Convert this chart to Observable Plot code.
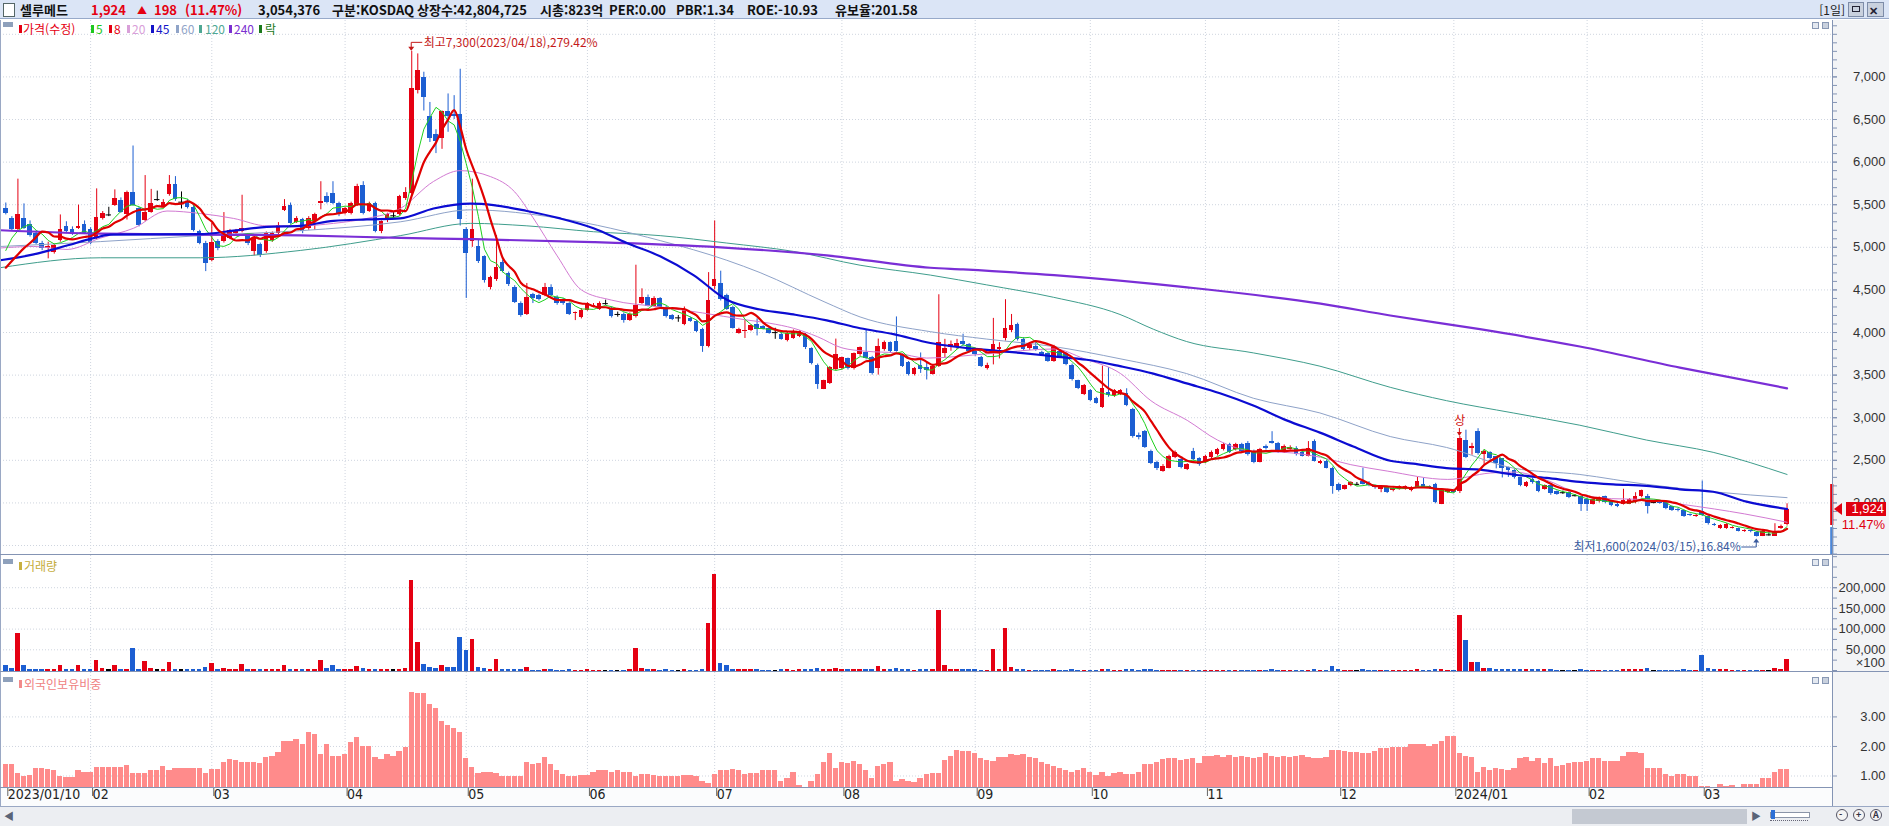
<!DOCTYPE html>
<html lang="ko"><head><meta charset="utf-8">
<script src="https://cdn.jsdelivr.net/npm/d3@7"></script>
<script src="https://cdn.jsdelivr.net/npm/@observablehq/plot@0.6"></script>
<style>
html,body{margin:0;padding:0;}
body{width:1889px;height:826px;overflow:hidden;background:#fff;font-family:"Noto Sans CJK KR","Liberation Sans",sans-serif;}
#root{position:relative;width:1889px;height:826px;background:#fff;overflow:hidden;}
.a{position:absolute;white-space:nowrap;}
.pb{position:absolute;left:0;}
.pb svg{display:block;overflow:visible;}
</style></head><body><div id="root"></div>
<script>
// ---------------- DATA ----------------
const tickIdx=[0,14,34,56,76,96,117,138,160,179,198,220,239,261,280];
const tickLabels=["2023/01/10","02","03","04","05","06","07","08","09","10","11","12","2024/01","02","03"];
const priceTicks=[2000,2500,3000,3500,4000,4500,5000,5500,6000,6500,7000];
const priceGrid=[1500,2000,2500,3000,3500,4000,4500,5000,5500,6000,6500,7000,7500];
const volTicks=[50000,100000,150000,200000];
const frTicks=[1,2,3];

const open=[
5460,5340,5206,5340,5264,5166,5050,4990,4934,5079,
5241,5212,5224,5264,5206,5108,5340,5380,5495,5553,
5380,5645,5455,5311,5414,5560,5472,5616,5738,5530,
5541,5472,5183,5050,4848,5067,5067,5108,5166,5183,
5137,4952,5033,4952,5079,5166,5437,5495,5293,5322,
5224,5298,5512,5599,5628,5512,5397,5397,5495,5726,
5426,5512,5183,5310,5370,5380,5570,5628,6842,6998,
6536,6322,6281,6593,6560,6553,5206,5067,5004,4888,
4530,4628,4819,4692,4530,4339,4212,4443,4432,4432,
4530,4414,4385,4339,4218,4172,4258,4300,4270,4339,
4281,4212,4212,4143,4183,4339,4414,4310,4397,4299,
4195,4172,4097,4166,4126,4039,3836,4542,4570,4432,
4299,3993,4010,4022,4097,4068,4050,3999,3981,3906,
3935,3952,3981,3807,3617,3333,3403,3565,3576,3692,
3576,3738,3761,3703,3576,3796,3877,3894,3738,3646,
3507,3617,3588,3513,3605,3750,3819,3830,3894,3854,
3779,3703,3576,3761,3800,3934,4027,4097,3923,3807,
3836,3761,3750,3663,3779,3750,3617,3432,3276,3316,
3230,3125,3299,3258,3276,3287,3097,2796,2837,2605,
2478,2374,2409,2536,2507,2391,2605,2519,2478,2536,
2565,2622,2680,2622,2680,2698,2605,2478,2663,2721,
2698,2594,2628,2640,2594,2548,2721,2466,2490,2409,
2218,2160,2201,2218,2247,2230,2200,2160,2177,2143,
2160,2160,2143,2177,2218,2189,2218,1987,2120,2135,
2130,2738,2640,2836,2565,2594,2540,2524,2410,2380,
2293,2195,2276,2247,2160,2200,2130,2120,2120,2085,
2073,2045,1987,2016,2073,2016,1987,1987,1987,2004,
2073,2073,2004,2010,2004,1958,1925,1912,1860,1840,
1900,1842,1745,1698,1698,1700,1698,1665,1672,1658,
1611,1625,1611,1698,1750];
const high=[
5520,5360,5800,5510,5310,5190,5070,5060,5040,5380,
5300,5240,5495,5310,5230,5686,5420,5470,5674,5580,
5660,6189,5470,5842,5680,5660,5560,5842,5830,5650,
5560,5490,5200,5070,5280,5090,5408,5210,5210,5611,
5150,5120,5050,5180,5180,5290,5560,5520,5360,5340,
5360,5400,5770,5640,5770,5530,5470,5530,5740,5770,
5530,5530,5310,5400,5420,5610,5700,7300,7270,7055,
6700,6380,6600,6800,6780,7090,5230,5800,5080,4900,
4660,5137,4850,4710,4550,4360,4576,4460,4450,4576,
4560,4430,4400,4350,4240,4280,4350,4340,4360,4380,
4300,4240,4230,4230,4790,4513,4440,4420,4410,4310,
4210,4200,4300,4180,4140,4050,4703,5310,4720,4450,
4310,4050,4140,4090,4160,4080,4070,4050,4000,4010,
4030,4020,3990,3820,3630,3440,3600,3923,3710,3700,
3760,3830,4027,3720,3923,3900,3890,4183,3750,3660,
3590,3760,3650,3610,4443,3920,3900,3920,3980,3870,
3800,3720,3640,4166,3880,4385,4212,4110,3940,3880,
3900,3780,3760,3850,3800,3760,3630,3440,3390,3330,
3240,3605,3588,3330,3330,3340,3110,2820,2850,2620,
2490,2450,2560,2610,2520,2460,2640,2530,2560,2610,
2640,2700,2700,2700,2700,2720,2620,2640,2680,2836,
2710,2680,2670,2660,2610,2720,2740,2500,2500,2420,
2230,2210,2250,2240,2409,2250,2210,2200,2190,2180,
2200,2200,2190,2300,2290,2200,2230,2150,2160,2150,
2780,2854,2700,2871,2620,2600,2540,2480,2420,2390,
2300,2250,2290,2260,2210,2210,2140,2140,2130,2100,
2080,2060,2050,2070,2080,2030,1995,2160,2050,2120,
2150,2100,2030,2020,2010,1965,1935,1915,1870,1865,
2258,1850,1760,1745,1756,1720,1705,1685,1680,1665,
1675,1650,1756,1740,1990];
const low=[
5380,5190,5190,5210,5120,5030,4960,4865,4920,5060,
5160,5140,5210,5150,5030,5090,5320,5360,5480,5400,
5320,5480,5240,5300,5400,5540,5460,5600,5540,5450,
5450,5180,5030,4715,4830,4960,5050,5090,5150,5170,
5020,4900,4880,4930,5060,5150,5420,5270,5280,5160,
5200,5200,5440,5510,5500,5360,5380,5380,5480,5380,
5410,5170,5160,5290,5340,5370,5550,5600,6800,6600,
6230,6100,6150,6350,6500,5250,4400,5000,4810,4580,
4500,4600,4700,4540,4340,4180,4200,4340,4370,4420,
4420,4320,4320,4200,4140,4160,4250,4290,4260,4320,
4170,4180,4110,4130,4170,4330,4300,4300,4290,4170,
4140,4120,4080,4120,4000,3767,3820,4500,4370,4260,
4040,3980,3930,4010,3960,4030,3980,3920,3910,3890,
3920,3940,3800,3620,3333,3330,3390,3550,3560,3560,
3560,3720,3680,3500,3500,3780,3760,3770,3590,3490,
3490,3520,3443,3500,3590,3700,3780,3800,3840,3760,
3720,3590,3560,3620,3690,3900,4000,3900,3780,3790,
3780,3720,3650,3650,3700,3610,3430,3330,3260,3190,
3160,3110,3240,3240,3260,3130,2760,2740,2640,2450,
2380,2360,2400,2520,2400,2380,2490,2430,2460,2520,
2550,2610,2580,2610,2590,2550,2460,2470,2620,2690,
2580,2580,2620,2550,2540,2540,2480,2450,2400,2102,
2130,2150,2190,2200,2210,2190,2160,2120,2110,2130,
2150,2150,2130,2170,2170,2160,1990,1980,2110,2110,
2110,2520,2560,2560,2440,2500,2400,2293,2300,2280,
2190,2180,2220,2120,2150,2090,2090,2100,2050,2070,
1900,1900,1975,2000,1990,1955,1945,1975,1980,1990,
2060,1870,1990,1985,1920,1900,1895,1830,1840,1830,
1840,1740,1725,1690,1690,1695,1660,1655,1650,1600,
1605,1610,1610,1690,1730];
const close=[
5400,5210,5380,5225,5137,5050,4981,5010,5021,5206,
5183,5154,5250,5166,5050,5350,5397,5380,5570,5414,
5645,5495,5253,5414,5512,5560,5530,5738,5559,5530,
5472,5195,5050,4807,5062,4981,5154,5195,5195,5224,
5039,5108,4906,5160,5160,5253,5483,5281,5340,5183,
5340,5380,5541,5530,5512,5380,5455,5512,5715,5397,
5512,5183,5299,5385,5370,5599,5645,6859,7073,6755,
6281,6247,6593,6536,6530,5322,4923,5212,4830,4605,
4645,4761,4721,4559,4357,4200,4414,4397,4385,4530,
4432,4339,4339,4212,4230,4258,4339,4316,4339,4339,
4183,4212,4143,4212,4316,4414,4310,4397,4299,4183,
4154,4172,4270,4131,4010,3836,4374,4617,4385,4270,
4050,4039,4027,4085,4039,4039,3993,3999,3923,3993,
4010,4010,3819,3634,3385,3432,3588,3738,3703,3576,
3749,3819,3692,3518,3836,3877,3779,3779,3605,3507,
3576,3565,3553,3599,3883,3808,3865,3870,3854,3779,
3738,3599,3617,3854,3830,4050,4085,3923,3796,3865,
3796,3732,3663,3836,3721,3622,3443,3345,3374,3201,
3172,3345,3258,3316,3316,3143,2779,2767,2651,2466,
2409,2432,2548,2594,2420,2449,2507,2449,2548,2594,
2622,2680,2594,2680,2605,2565,2478,2622,2640,2700,
2594,2663,2651,2565,2548,2640,2490,2490,2409,2189,
2143,2201,2235,2218,2218,2200,2177,2177,2120,2172,
2189,2190,2177,2247,2177,2170,2004,2143,2143,2126,
2760,2536,2663,2582,2605,2518,2460,2403,2380,2300,
2201,2235,2235,2131,2201,2110,2102,2120,2062,2085,
1987,1987,2045,2062,2004,1969,1958,2027,2045,2073,
2143,1958,2004,1995,1929,1912,1910,1842,1850,1855,
1854,1756,1735,1738,1745,1710,1669,1675,1660,1610,
1669,1625,1669,1726,1924];
// volume in the axis unit (x100 shares)
const volume=[
13000,4000,90000,11000,2500,2000,1500,1500,2000,11000,
2000,1500,11000,2000,2500,25000,4000,2000,11000,2000,
3000,52000,2000,21000,4000,2500,3000,19000,3000,1500,
1500,2000,2500,7000,17000,3000,4000,1500,1500,15000,
2500,2000,1500,2000,2000,3000,12000,2500,2000,2000,
2500,2000,25000,4000,12000,2000,2000,2500,10000,6000,
2500,3000,2000,2000,1500,3500,4000,218000,67000,15000,
7000,4000,13000,7000,7000,79000,49000,75000,7000,4000,
2500,27000,3000,2000,2000,2000,7000,1000,1000,2500,
2000,1000,1000,1500,1000,1000,1500,1000,1000,800,
1000,800,1000,1500,52000,4000,2000,1500,1000,2000,
1000,800,2500,1000,1000,1500,114000,233000,17000,11000,
3000,2500,2500,2000,1500,1000,1000,800,1500,1500,
1000,1500,2000,3000,6000,3000,2000,4000,2500,1500,
2500,3000,3500,3000,10000,2500,1500,6000,2000,1500,
1000,1500,1500,2000,144000,11000,3000,2500,2500,2000,
1500,1000,1000,51000,3000,102000,7000,2500,2000,1000,
1000,800,800,1500,800,1000,1500,1000,1000,800,
800,3000,1500,1000,1000,2500,3000,1000,1500,1500,
1000,800,1000,800,1000,800,1000,800,800,800,
800,1000,800,800,800,1000,1000,800,800,1500,
800,800,800,800,800,1000,1500,800,1000,10000,
1500,1000,800,600,1500,800,800,800,800,800,
800,800,800,1500,1000,800,3000,2000,800,1000,
132000,73000,19000,19000,5000,4000,2000,3500,3000,2500,
2000,2500,1500,1500,2000,1500,1000,800,800,800,
1500,1000,800,800,800,800,800,3000,3000,2500,
2500,5000,800,800,1000,800,1000,2000,1000,800,
37000,4000,1500,2500,1500,1000,1000,800,800,1000,
800,800,4000,1500,27000];
// foreign ownership ratio (%)
const foreign=[
1.38,1.38,1.08,0.97,1.03,1.25,1.25,1.22,1.2,1.0,
0.95,0.95,1.17,1.12,1.12,1.3,1.3,1.28,1.28,1.3,
1.37,1.08,1.08,1.08,1.2,1.2,1.33,1.17,1.25,1.25,
1.25,1.25,1.25,1.08,1.22,1.22,1.45,1.55,1.53,1.47,
1.47,1.47,1.42,1.63,1.67,1.8,2.17,2.17,2.22,2.08,
2.47,2.42,1.72,2.08,1.67,1.67,1.72,2.13,2.3,2.0,
2.0,1.63,1.55,1.72,1.67,1.83,1.97,3.83,3.78,3.8,
3.42,3.3,2.83,2.72,2.6,2.47,1.58,1.28,1.08,1.12,
1.12,1.08,1.0,1.0,1.0,1.0,1.45,1.38,1.42,1.63,
1.38,1.17,1.05,0.97,0.97,1.03,1.03,1.13,1.2,1.2,
1.13,1.2,1.12,1.12,1.0,1.05,1.05,1.03,1.0,1.0,
0.97,1.0,1.03,1.03,0.97,0.83,0.75,1.05,1.2,1.2,
1.22,1.17,1.05,1.08,1.08,1.17,1.17,1.17,0.83,0.92,
1.12,0.67,0.58,0.83,1.05,1.45,1.75,1.25,1.45,1.42,
1.5,1.38,1.2,0.92,1.33,1.38,1.47,0.83,0.87,0.83,
0.78,0.92,1.05,1.08,1.08,1.53,1.67,1.87,1.83,1.83,
1.75,1.58,1.53,1.5,1.63,1.63,1.72,1.7,1.72,1.63,
1.58,1.47,1.38,1.33,1.25,1.2,1.13,1.17,1.25,1.12,
1.03,1.12,1.0,1.08,1.12,1.05,1.05,1.13,1.38,1.38,
1.47,1.55,1.58,1.58,1.53,1.55,1.58,1.42,1.67,1.67,
1.7,1.63,1.7,1.63,1.67,1.63,1.58,1.63,1.75,1.67,
1.63,1.67,1.63,1.67,1.7,1.63,1.58,1.58,1.63,1.87,
1.87,1.83,1.8,1.78,1.75,1.75,1.83,1.92,1.92,1.95,
1.97,1.97,2.08,2.08,2.05,2.0,2.08,2.17,2.33,2.33,
1.75,1.67,1.62,1.13,1.28,1.17,1.25,1.22,1.17,1.25,
1.58,1.62,1.5,1.58,1.42,1.58,1.33,1.37,1.42,1.45,
1.45,1.5,1.58,1.58,1.5,1.5,1.5,1.67,1.78,1.78,
1.75,1.25,1.25,1.25,1.05,1.0,1.05,1.05,1.0,1.0,
0.63,0.63,0.62,0.7,0.63,0.67,0.62,0.7,0.72,0.7,
0.92,0.92,1.13,1.22,1.22];
// moving-average lines: [day index, price]
const ma5Lead=[4963,5108,5195,5240];
const ma8Lead=[4761,4840,4917,4990,5050,5120,5183];
const ma20=[[-0.9,4992],[4.6,5010],[10.1,4975],[15.6,5108],[21.1,5224],[26.6,5426],[32.1,5397],[37.6,5339],[43.1,5252],[48.6,5252],[54.1,5281],[59.6,5339],[65.1,5455],[70.6,5773],[75,5900],[80,5830],[84,5650],[87,5350],[91,4900],[95,4500],[100,4380],[108,4300],[115,4230],[122,4150],[126,4110],[130,4050],[134,3950],[138,3820],[142,3780],[147,3760],[152,3700],[162,3750],[173,3807],[178,3692],[184,3518],[189,3200],[195,2969],[200,2738],[206,2605],[211,2594],[217,2536],[222,2449],[228,2374],[238,2276],[245,2351],[249,2362],[254,2276],[260,2100],[265,2050],[271,2040],[276,1990],[282,1929],[287,1871],[294,1773]];
const ma45=[[-0.9,4848],[4.6,4917],[10.1,5021],[14.5,5108],[17.3,5148],[32.1,5154],[37.6,5195],[43.1,5241],[48.6,5252],[54.1,5310],[59.6,5327],[65.1,5339],[70.6,5455],[76.7,5512],[80.5,5495],[86,5426],[91.5,5339],[97,5224],[102.5,5050],[108,4894],[113.5,4674],[119,4385],[124.5,4270],[130,4212],[135.5,4143],[141,4050],[146.5,3981],[152.6,3877],[156.4,3836],[161.9,3796],[167.4,3761],[172.9,3721],[178.4,3680],[183.9,3605],[189.4,3518],[194.9,3403],[200.4,3287],[205.9,3143],[211.4,2969],[216.9,2825],[222.4,2663],[228.5,2495],[232.3,2461],[237.8,2409],[243.3,2391],[248.8,2334],[254.3,2293],[259.8,2247],[265.3,2218],[270.8,2201],[276.3,2160],[281.8,2131],[287.3,2016],[294,1929]];
const ma60=[[-0.9,5010],[15.6,5067],[32.1,5137],[48.6,5195],[65.1,5299],[76.7,5440],[91.5,5339],[108,5079],[119,4848],[124.5,4703],[135.2,4357],[141,4183],[152.6,4010],[161.9,3923],[172.9,3836],[183.9,3692],[194.9,3518],[205.9,3229],[216.9,3056],[228.5,2779],[237.8,2651],[248.8,2409],[259.8,2334],[270.8,2218],[281.8,2131],[294,2062]];
const ma120=[[-0.9,4761],[15.6,4877],[32.1,4877],[48.6,4963],[65.1,5137],[76.7,5281],[86,5252],[97,5183],[108,5137],[119,5050],[130,4952],[141,4790],[152.6,4674],[161.9,4559],[172.9,4414],[183.9,4212],[189.4,4039],[194.9,3894],[205.9,3761],[216.9,3605],[228.5,3357],[237.8,3200],[248.8,3056],[259.8,2912],[270.8,2738],[281.8,2594],[294,2334]];
const ma240=[[-0.9,5200],[15.6,5160],[32.1,5150],[48.6,5140],[65.1,5110],[76.7,5096],[97,5062],[118,5000],[135.5,4906],[152.6,4760],[158,4740],[173,4674],[195,4530],[217,4339],[228.5,4200],[243.3,4039],[259.8,3836],[276.3,3588],[294,3345]];
const axisBands=[{from:2216,to:1735,color:"#e0000e"},{from:1711,to:1394,color:"#4a86d8"}];

// ---------------- SETUP ----------------
const RED="#e50012", BLUE="#1c5ed2", GRID="#cfd5df", AX="#8494b4";
const W=1889, MR=57, X_DOMAIN=[-0.875,301.5];
const MAIN_TOP=20, MAIN_H=535, VOL_TOP=555, VOL_H=117, FR_TOP=672, FR_H=116;
const P_DOM=[1383,7662], V_DOM=[-4830,277800], F_DOM=[0.577,4.503];
const N=close.length;
const C=d3.range(N).map(i=>({i,o:open[i],h:high[i],l:low[i],c:close[i],v:volume[i],f:foreign[i]}));
const col=d=>d.c>d.o?RED:d.c<d.o?BLUE:"#000";
const bodies=C.filter(d=>d.c!==d.o), dojis=C.filter(d=>d.c===d.o);
const ma5=close.map((c,i)=>i<4?ma5Lead[i]:d3.mean(close.slice(i-4,i+1)));
const ma8=close.map((c,i)=>i<7?ma8Lead[i]:d3.mean(close.slice(i-7,i+1)));
const labelMap=new Map(tickIdx.map((t,k)=>[t,tickLabels[k]]));
const baseStyle={background:"transparent",overflow:"visible",fontFamily:"'Liberation Sans',sans-serif",fontSize:"13px",color:"#333"};
const pairLine=(arr,stroke,w)=>Plot.line(arr,{x:d=>d[0],y:d=>d[1],stroke,strokeWidth:w,curve:"monotone-x"});

const mainPlot=Plot.plot({
  width:W,height:MAIN_H,marginLeft:0,marginRight:MR,marginTop:0,marginBottom:0,
  x:{domain:X_DOMAIN,axis:null,label:null},y:{domain:P_DOM,axis:null,label:null},color:{type:"identity"},style:baseStyle,
  marks:[
    Plot.ruleY(priceGrid,{stroke:GRID,strokeDasharray:"1,2"}),
    Plot.ruleX(tickIdx.slice(1),{stroke:GRID,strokeDasharray:"1,2"}),
    Plot.ruleX(C,{x:"i",y1:"l",y2:"h",stroke:col}),
    Plot.rect(bodies,{x1:d=>d.i-0.38,x2:d=>d.i+0.38,y1:"o",y2:"c",fill:col,shapeRendering:"crispEdges"}),
    Plot.ruleY(dojis,{x1:d=>d.i-0.45,x2:d=>d.i+0.45,y:"c",stroke:"#000"}),
    pairLine(ma120,"#3f9d8c",1),
    pairLine(ma60,"#8ea2c8",1),
    pairLine(ma20,"#d27ad2",1),
    Plot.line(ma5,{x:(d,i)=>i,y:d=>d,stroke:"#1ed01e",strokeWidth:1}),
    pairLine(ma240,"#7a2ed6",2.2),
    pairLine(ma45,"#0c0cd2",2.2),
    Plot.line(ma8,{x:(d,i)=>i,y:d=>d,stroke:"#e00000",strokeWidth:2.2,curve:"monotone-x"}),
    Plot.axisY(d3.range(1400,7700,100),{anchor:"right",label:null,tickSize:4,tickFormat:()=>"",stroke:AX}),
    Plot.axisY(priceTicks,{anchor:"right",label:null,tickSize:4,tickPadding:49,textAnchor:"end",tickFormat:d3.format(","),stroke:AX,fill:"#333",fontSize:13}),
    Plot.rect(axisBands,{x1:301.2,x2:301.72,y1:"from",y2:"to",fill:"color"}),
    Plot.text([{i:67,p:7300}],{x:"i",y:"p",text:()=>"최고7,300(2023/04/18),279.42%",textAnchor:"start",dx:12,dy:-8,fill:"#c41a1a",fontSize:12,fontFamily:"'Noto Sans CJK KR'"}),
    Plot.text([{i:289,p:1600}],{x:"i",y:"p",text:()=>"최저1,600(2024/03/15),16.84%",textAnchor:"end",dx:-16,dy:10,fill:"#3a5b9e",fontSize:12,fontFamily:"'Noto Sans CJK KR'"}),
    Plot.text([{i:240,p:2780}],{x:"i",y:"p",text:()=>"상",dy:-15,fill:"#d01010",fontSize:12,fontFamily:"'Noto Sans CJK KR'"})
  ]
});

const volPlot=Plot.plot({
  width:W,height:VOL_H,marginLeft:0,marginRight:MR,marginTop:0,marginBottom:0,
  x:{domain:X_DOMAIN,axis:null,label:null},y:{domain:V_DOM,axis:null,label:null},color:{type:"identity"},style:baseStyle,
  marks:[
    Plot.ruleY(volTicks,{stroke:GRID,strokeDasharray:"1,2"}),
    Plot.ruleX(tickIdx.slice(1),{stroke:GRID,strokeDasharray:"1,2"}),
    Plot.rect(C,{x1:d=>d.i-0.37,x2:d=>d.i+0.37,y1:()=>V_DOM[0],y2:"v",fill:col,shapeRendering:"crispEdges"}),
    Plot.axisY(d3.range(0,280000,25000),{anchor:"right",label:null,tickSize:4,tickFormat:()=>"",stroke:AX}),
    Plot.axisY(volTicks,{anchor:"right",label:null,tickSize:4,tickPadding:49,textAnchor:"end",tickFormat:d3.format(","),stroke:AX,fill:"#333",fontSize:13})
  ]
});

const frPlot=Plot.plot({
  width:W,height:FR_H+19,marginLeft:0,marginRight:MR,marginTop:0,marginBottom:19,
  x:{domain:X_DOMAIN,axis:null,label:null},y:{domain:F_DOM,axis:null,label:null},color:{type:"identity"},style:baseStyle,
  marks:[
    Plot.ruleY(frTicks,{stroke:GRID,strokeDasharray:"1,2"}),
    Plot.ruleX(tickIdx.slice(1),{stroke:GRID,strokeDasharray:"1,2"}),
    Plot.rect(C,{x1:d=>d.i-0.44,x2:d=>d.i+0.44,y1:()=>F_DOM[0],y2:"f",fill:"#ff8b8b",shapeRendering:"crispEdges"}),
    Plot.axisY(frTicks,{anchor:"right",label:null,tickSize:4,tickPadding:49,textAnchor:"end",tickFormat:d3.format(".2f"),stroke:AX,fill:"#333",fontSize:13}),
    Plot.axisX(tickIdx,{anchor:"bottom",label:null,tickSize:8,tickPadding:-7,textAnchor:"start",dx:2,tickFormat:d=>labelMap.get(d),stroke:"#666",fill:"#222",fontSize:14,fontFamily:"'Liberation Sans Narrow','DejaVu Sans Condensed',sans-serif"})
  ]
});

// ---------------- LAYOUT ----------------
const root=document.getElementById("root");
function box(x,y,w,h,st){const e=document.createElement("div");e.className="a";Object.assign(e.style,{left:x+"px",top:y+"px",width:w+"px",height:h+"px"},st||{});root.appendChild(e);return e;}
function txt(x,cy,s,st,right){const e=document.createElement("div");e.className="a";e.textContent=s;const lh=16;Object.assign(e.style,{top:(cy-lh/2)+"px",lineHeight:lh+"px",fontSize:"12px"},st||{});if(right)e.style.right=(W-x)+"px";else e.style.left=x+"px";root.appendChild(e);return e;}

// backgrounds
box(0,20,1832,787,{background:"#ffffff"});
box(1833,20,56,787,{background:"#f3f4f6"});
box(0,788,1832,19,{background:"#fbfcfd"});
// header
box(0,0,1889,19,{background:"#dbe5f6",borderBottom:"1px solid #97a9c9",boxSizing:"border-box"});
box(3,3,10,12,{background:"#fff",border:"1px solid #566"});
const hb={fontWeight:"700",fontSize:"13px",fontFamily:"'Noto Sans CJK KR',sans-serif",color:"#111"};
[[20,"셀루메드","#111"],[91,"1,924",RED],[137,"▲",RED],[154,"198",RED],[185,"(11.47%)",RED],[258,"3,054,376"],[332,"구분:KOSDAQ"],[417,"상장수:42,804,725"],[540,"시총:823억"],[609,"PER:0.00"],[676,"PBR:1.34"],[747,"ROE:-10.93"],[835,"유보율:201.58"]]
 .forEach(([x,s,c])=>txt(x,10,s,Object.assign({},hb,{color:c||"#111"},s==="▲"?{fontSize:"10px"}:{})));
txt(1845,10,"[1일]",{fontSize:"12px",color:"#222",fontFamily:"'Noto Sans CJK KR',sans-serif"},true);
box(1848,2,16,15,{background:"#c9d1de",border:"1px solid #7d8ca8",boxSizing:"border-box"});
box(1852,6,8,6,{border:"1.5px solid #223",boxSizing:"border-box"});
box(1867,2,17,15,{background:"#c9d1de",border:"1px solid #7d8ca8",boxSizing:"border-box"});
txt(1869,10,"✕",{fontSize:"11px",fontWeight:"700",color:"#223"});

// plots
[[mainPlot,MAIN_TOP],[volPlot,VOL_TOP],[frPlot,FR_TOP]].forEach(([p,t])=>{const d=document.createElement("div");d.className="pb";d.style.top=t+"px";d.appendChild(p);root.appendChild(d);});

// frame lines
box(1832,20,1,787,{background:AX});
box(0,20,1,787,{background:"#9aa8c4"});
box(0,554,1889,1,{background:AX});
box(0,671,1889,1,{background:AX});
box(0,787,1832,1,{background:AX});
box(0,806,1889,1,{background:"#9aa8c4"});

// panel corner markers & icons
[22,559,677].forEach(y=>{box(3,y,10,5,{background:"#8ea0bb"});box(1812,y,7,7,{background:"#e3e8f0",border:"1px solid #8898b4",boxSizing:"border-box"});box(1822,y,7,7,{background:"#c9d1de",border:"1px solid #8898b4",boxSizing:"border-box"});});

// legends
const lg={fontFamily:"'Liberation Sans Narrow','Noto Sans CJK KR',sans-serif",fontSize:"12px"};
[[19,23,"가격(수정)",RED],[91,96,"5","#1ec81e"],[109,114,"8",RED],[127,132,"20","#d9a0d9"],[151,156,"45","#1414c8"],[176,181,"60","#90a4c8"],[199,205,"120","#4fa894"],[229,234,"240","#7a30d0"],[259,265,"락","#1b7a1b"]]
 .forEach(([mx,tx,s,c])=>{box(mx,25,3,8,{background:c});txt(tx,29,s,Object.assign({},lg,{color:c}));});
box(19,562,3,8,{background:"#c8b040"});txt(24,566,"거래량",Object.assign({},lg,{color:"#c4ac3a"}));
box(19,680,3,8,{background:"#f28a8a"});txt(24,684,"외국인보유비중",Object.assign({},lg,{color:"#ef8282"}));

// volume unit label
txt(1885,663,"×100",{fontSize:"13px",fontFamily:"'Liberation Sans',sans-serif",color:"#333"},true);

// current price badge
const sx=mainPlot.scale("x"), sy=mainPlot.scale("y");
const lastY=MAIN_TOP+sy.apply(close[N-1]);
box(1846,lastY-7,40,14,{background:"#e00010"});
txt(1884,lastY,"1,924",{fontSize:"13px",fontFamily:"'Liberation Sans',sans-serif",color:"#fff"},true);
txt(1885,lastY+16,"11.47%",{fontSize:"13px",fontFamily:"'Liberation Sans',sans-serif",color:"#e00010"},true);

// overlay arrows
const ov=d3.create("svg").attr("width",W).attr("height",826).style("position","absolute").style("left",0).style("top",0).style("pointer-events","none");
const tri=(x,y)=>`M${x},${y}L${x+8},${y-6}L${x+8},${y+6}Z`;
ov.append("path").attr("d",tri(1834,lastY)).attr("fill","#e00010");
const hx=sx.apply(67), hy=MAIN_TOP+sy.apply(7300);
ov.append("path").attr("d",`M${hx+11},${hy-8.5}H${hx}V${hy-1}`).attr("fill","none").attr("stroke","#c41a1a");
ov.append("path").attr("d",`M${hx-3},${hy-4}L${hx},${hy}L${hx+3},${hy-4}Z`).attr("fill","#c41a1a");
const lx=sx.apply(289), ly=MAIN_TOP+sy.apply(1600);
ov.append("path").attr("d",`M${lx-15},${ly+10.5}H${lx}V${ly+4}`).attr("fill","none").attr("stroke","#3a5b9e");
ov.append("path").attr("d",`M${lx-3},${ly+6}L${lx},${ly+2}L${lx+3},${ly+6}Z`).attr("fill","#3a5b9e");
const ux=sx.apply(240), uy=MAIN_TOP+sy.apply(2780);
ov.append("path").attr("d",`M${ux},${uy-8}V${uy-1}`).attr("stroke","#d01010");
ov.append("path").attr("d",`M${ux-2.5},${uy-4}L${ux},${uy}L${ux+2.5},${uy-4}Z`).attr("fill","#d01010");
root.appendChild(ov.node());

// bottom scroll bar
box(0,807,1889,19,{background:"#eceef2"});
txt(4,816,"◀",{fontSize:"10px",color:"#5a6478"});
box(1572,809,175,15,{background:"#c4c9d2"});
txt(1751,816,"▶",{fontSize:"10px",color:"#5a6478"});
box(1770,812,38,4,{background:"#fff",border:"1px solid #8a94a8"});
box(1771,810,4,9,{background:"#2c6fd6"});
box(1770,820,38,5,{borderTop:"1px dotted #667"});
[1836,1853,1870].forEach((x,k)=>{box(x,809,12,12,{borderRadius:"50%",border:"1.5px solid #556",boxSizing:"border-box",background:"#f4f4f4"});txt(x+3,815,["-","+","A"][k],{fontSize:"9px",fontWeight:"700",color:"#334"});});
</script></body></html>
